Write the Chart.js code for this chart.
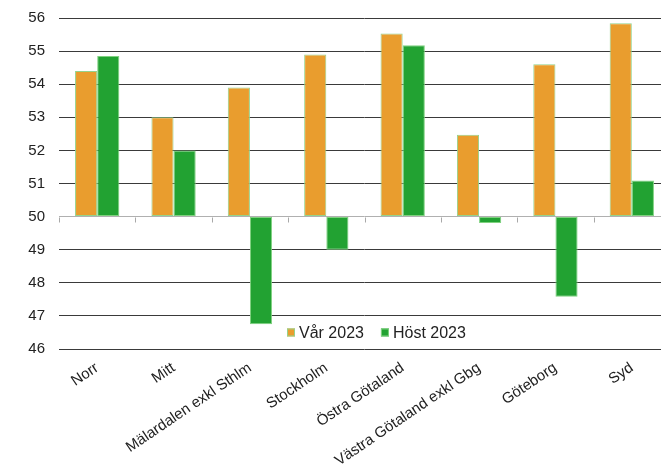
<!DOCTYPE html>
<html>
<head>
<meta charset="utf-8">
<script src="https://cdn.jsdelivr.net/npm/chart.js@4.4.1/dist/chart.umd.min.js"></script>
<style>
  html, body { margin: 0; padding: 0; background: #fff; overflow: hidden; }
  #wrap { width: 670px; height: 475px; }
</style>
</head>
<body>
<div id="wrap"><canvas id="regionChart" width="670" height="475"></canvas></div>
<script>
// 地区与两期数值
const regions = ["Norr", "Mitt", "Mälardalen exkl Sthlm", "Stockholm", "Östra Götaland",
                 "Västra Götaland exkl Gbg", "Göteborg", "Syd"];
const var2023 = [54.4, 53.0, 53.9, 54.9, 55.53, 52.47, 54.6, 55.84];
const host2023 = [54.85, 52.0, 46.75, 49.0, 55.18, 49.81, 47.58, 51.09];
const yMin = 46, yMax = 56, baseLine = 50;

const FONT = "'Liberation Sans', Arial, sans-serif";

// 在 50 的基线上画分类分隔小刻度
const baseTicks = {
    id: "baseTicks",
    afterDatasetsDraw(chart) {
        const { ctx, chartArea, scales } = chart;
        const y = Math.round(scales.y.getPixelForValue(baseLine)) + 0.5;
        const step = (chartArea.right - chartArea.left) / regions.length;
        ctx.save();
        ctx.strokeStyle = "#a8a8a8";
        ctx.lineWidth = 1;
        ctx.beginPath();
        for (let i = 0; i <= regions.length; i++) {
            const x = Math.round(chartArea.left + i * step) + 0.5;
            ctx.moveTo(x, y);
            ctx.lineTo(x, y + 5);
        }
        ctx.stroke();
        ctx.restore();
    }
};

// 图例画在绘图区底部
const innerLegend = {
    id: "innerLegend",
    afterDraw(chart) {
        const { ctx, chartArea, scales } = chart;
        const cy = scales.y.getPixelForValue(46.5);
        let x = chartArea.left + 228;
        ctx.save();
        ctx.font = "16px " + FONT;
        ctx.textBaseline = "middle";
        chart.data.datasets.forEach((ds) => {
            ctx.fillStyle = ds.backgroundColor;
            ctx.fillRect(x, cy - 4, 8, 8);
            ctx.strokeStyle = ds.borderColor;
            ctx.lineWidth = 1;
            ctx.strokeRect(x + 0.5, cy - 3.5, 7, 7);
            ctx.fillStyle = "#222";
            ctx.fillText(ds.label, x + 12, cy + 1);
            x += 12 + ctx.measureText(ds.label).width + 17;
        });
        ctx.restore();
    }
};

new Chart(document.getElementById("regionChart").getContext("2d"), {
    type: "bar",
    data: {
        labels: regions,
        datasets: [
            {
                label: "Vår 2023",
                data: var2023,
                base: baseLine,
                backgroundColor: "#e99d2e",
                borderColor: "#94d38c",
                borderWidth: 1,
                borderSkipped: false
            },
            {
                label: "Höst 2023",
                data: host2023,
                base: baseLine,
                backgroundColor: "#22a232",
                borderColor: "#7fd27f",
                borderWidth: 1,
                borderSkipped: false
            }
        ]
    },
    options: {
        responsive: false,
        animation: false,
        devicePixelRatio: 1,
        layout: { padding: { top: 18, right: 0, bottom: 0, left: 0 } },
        datasets: {
            bar: { categoryPercentage: 0.58, barPercentage: 1.0 }
        },
        plugins: {
            legend: { display: false },
            tooltip: { enabled: false }
        },
        scales: {
            x: {
                grid: { display: false },
                border: { display: false },
                ticks: {
                    autoSkip: false,
                    minRotation: 34,
                    maxRotation: 34,
                    padding: 2,
                    color: "#222",
                    font: { family: FONT, size: 15 }
                },
                afterFit(scale) {
                    scale.height = 126;
                    scale.paddingLeft = 0;
                    scale.paddingRight = 0;
                }
            },
            y: {
                min: yMin,
                max: yMax,
                ticks: {
                    stepSize: 1,
                    padding: 14,
                    color: "#222",
                    font: { family: FONT, size: 15 }
                },
                grid: {
                    drawTicks: false,
                    lineWidth: 1,
                    color: (c) => (c.tick && c.tick.value === baseLine ? "#b0b0b0" : "#3a3a3a")
                },
                border: { display: false },
                afterFit(scale) {
                    scale.width = 59;
                    scale.paddingTop = 0;
                    scale.paddingBottom = 0;
                }
            }
        }
    },
    plugins: [baseTicks, innerLegend]
});
</script>
</body>
</html>
